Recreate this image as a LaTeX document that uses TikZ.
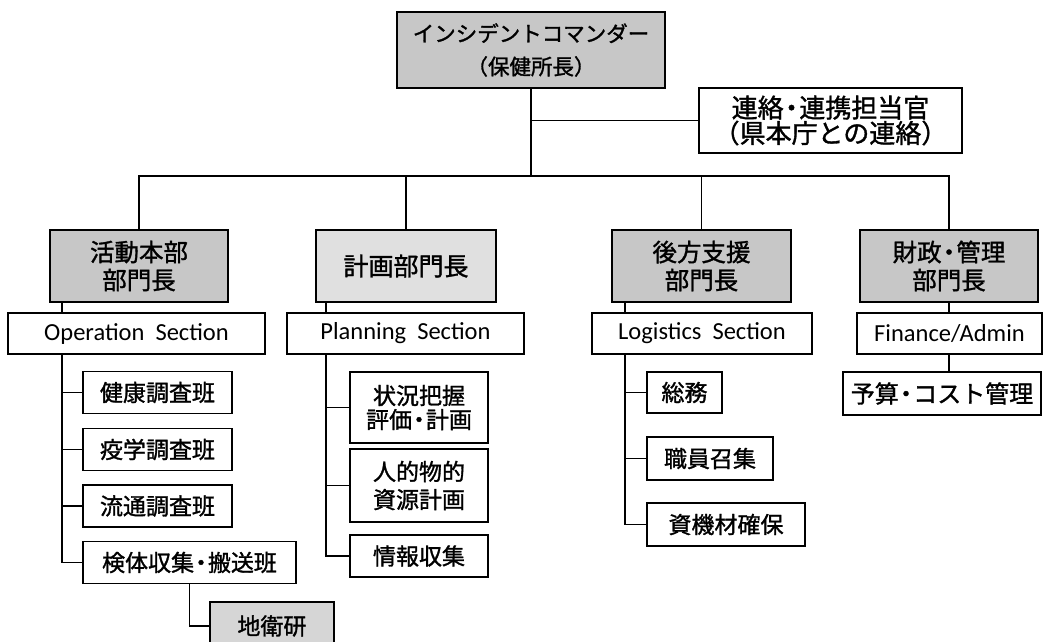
\documentclass[tikz,border=0pt]{standalone}
\usepackage{fontspec}
\setmainfont{Noto Sans CJK JP}[FakeBold=1.3]
\newfontfamily\en{Carlito}
\newcommand{\nd}{\makebox[0.6em]{・}}
\definecolor{gA}{gray}{0.78}
\definecolor{gB}{gray}{0.88}
\definecolor{gC}{gray}{0.84}
\begin{document}
\begin{tikzpicture}[x=1pt,y=-1pt,
  box/.style={draw, line width=1.9pt, inner sep=0pt, align=center,
    font=\fontsize{23}{27}\selectfont},
  headbox/.style={box, minimum height=72pt, font=\fontsize{24.5}{28}\selectfont},
  secbox/.style={box, minimum height=41pt, font=\en\fontsize{24.5}{25}\selectfont},
  kid/.style={box, minimum height=42pt},
  conn/.style={line width=1.9pt}]
\useasboundingbox (0,0) rectangle (1047,641);
% top
\node[box, fill=gA, minimum width=268pt, minimum height=76pt,
  font=\fontsize{21.5}{33}\selectfont] (ic) at (531,50) {インシデントコマンダー\\（保健所長）};
\node[box, minimum width=263pt, minimum height=65pt,
  font=\fontsize{26}{24}\selectfont] (li) at (830.5,120.5) {連絡\nd 連携担当官\\（県本庁との連絡）};
% heads
\node[headbox, fill=gA, minimum width=178pt] (oph) at (139,266) {活動本部\\部門長};
\node[headbox, fill=gB, minimum width=180pt, font=\fontsize{25}{27}\selectfont] (plh) at (406,266) {計画部門長};
\node[headbox, fill=gA, minimum width=179pt] (loh) at (701.5,266) {後方支援\\部門長};
\node[headbox, fill=gA, minimum width=178pt] (fih) at (949,266) {財政\nd 管理\\部門長};
% sections
\node[secbox, minimum width=257pt] (ops) at (136.5,333.5) {Operation\ \ Section};
\node[secbox, minimum width=237pt] (pls) at (405.5,333.5) {Planning\ \ Section};
\node[secbox, minimum width=220pt] (los) at (702,333.5) {Logistics\ \ Section};
\node[secbox, minimum width=185pt] (fis) at (949.5,333.5) {Finance/Admin};
% operation children
\node[kid, minimum width=149pt] (o1) at (157.5,392.5) {健康調査班};
\node[kid, minimum width=149pt] (o2) at (157.5,449.5) {疫学調査班};
\node[kid, minimum width=149pt] (o3) at (157.5,506) {流通調査班};
\node[kid, minimum width=213pt] (o4) at (189.5,562.5) {検体収集\nd 搬送班};
\node[box, fill=gC, minimum width=124pt, minimum height=48pt, anchor=north west] (o5) at (209,601) {地衛研};
% planning children
\node[kid, minimum width=138pt, minimum height=71pt, font=\fontsize{23}{24}\selectfont] (p1) at (419,407.5) {状況把握\\評価\nd 計画};
\node[kid, minimum width=138pt, minimum height=73pt, font=\fontsize{23}{28}\selectfont] (p2) at (419,485.5) {人的物的\\資源計画};
\node[kid, minimum width=138pt] (p3) at (419,556) {情報収集};
% logistics children
\node[kid, minimum width=75pt, minimum height=41pt] (l1) at (684.5,392.5) {総務};
\node[kid, minimum width=126pt, minimum height=43pt] (l2) at (710,458.5) {職員召集};
\node[kid, minimum width=158pt, minimum height=43pt] (l3) at (726,524.5) {資機材確保};
% finance child
\node[kid, minimum width=198pt, minimum height=43pt, font=\fontsize{24}{27}\selectfont] (f1) at (942,393.5) {予算\nd コスト管理};
% spines
\coordinate (bus) at (0,176);
\coordinate (os) at (62,0);
\coordinate (ps) at (326,0);
\coordinate (ls) at (625,0);
\coordinate (fs) at (949,0);
% connectors
\draw[conn] (ic.south) -- (ic.south |- bus);
\draw[conn] (ic.south |- li.west) -- (li.west);
\draw[conn] (oph.north) -- (oph.north |- bus) -- (fih.north |- bus) -- (fih.north);
\draw[conn] (plh.north) -- (plh.north |- bus);
\draw[conn] (loh.north) -- (loh.north |- bus);
\draw[conn] (oph.south -| os) -- (ops.north -| os);
\draw[conn] (plh.south -| ps) -- (pls.north -| ps);
\draw[conn] (loh.south -| ls) -- (los.north -| ls);
\draw[conn] (fih.south -| fs) -- (fis.north -| fs);
\draw[conn] (ops.south -| os) |- (o1.west);
\draw[conn] (ops.south -| os) |- (o2.west);
\draw[conn] (ops.south -| os) |- (o3.west);
\draw[conn] (ops.south -| os) |- (o4.west);
\draw[conn] (o4.south) |- (o5.west);
\draw[conn] (pls.south -| ps) |- (p1.west);
\draw[conn] (pls.south -| ps) |- (p2.west);
\draw[conn] (pls.south -| ps) |- (p3.west);
\draw[conn] (los.south -| ls) |- (l1.west);
\draw[conn] (los.south -| ls) |- (l2.west);
\draw[conn] (los.south -| ls) |- (l3.west);
\draw[conn] (fis.south -| fs) -- (f1.north -| fs);
\end{tikzpicture}
\end{document}
